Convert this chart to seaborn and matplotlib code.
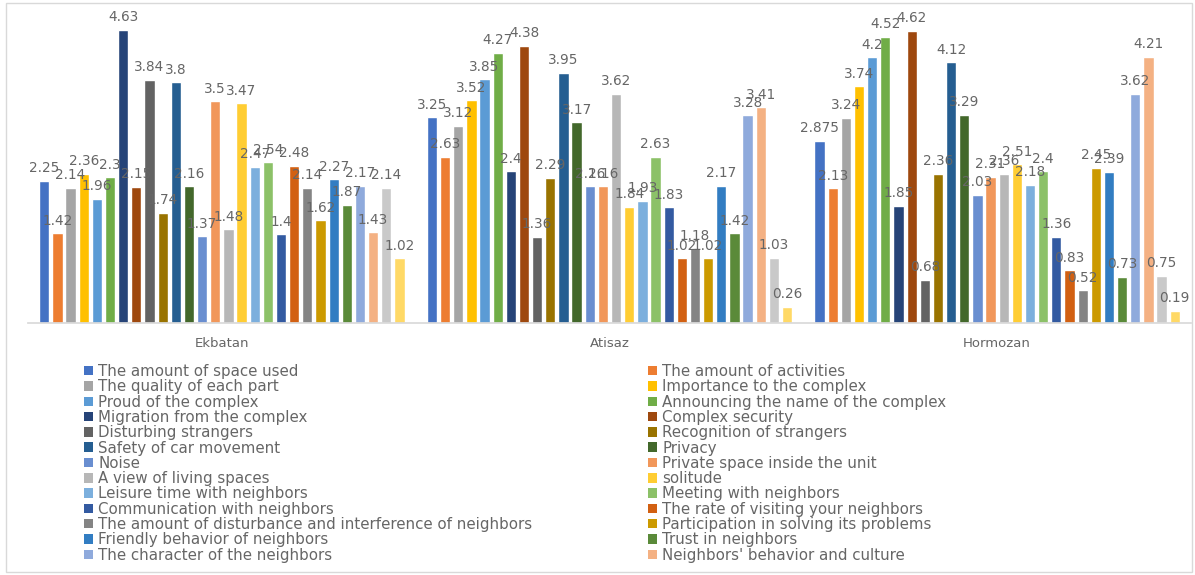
import matplotlib
matplotlib.use("Agg")
import matplotlib.pyplot as plt
import seaborn as sns
import pandas as pd
from matplotlib.patches import Patch, Rectangle

sites = ["Ekbatan", "Atisaz", "Hormozan"]

series_names = [
    "The amount of space used",
    "The amount of activities",
    "The quality of each part",
    "Importance to the complex",
    "Proud of the complex",
    "Announcing the name of the complex",
    "Migration from the complex",
    "Complex security",
    "Disturbing strangers",
    "Recognition of strangers",
    "Safety of car movement",
    "Privacy",
    "Noise",
    "Private space inside the unit",
    "A view of living spaces",
    "solitude",
    "Leisure time with neighbors",
    "Meeting with neighbors",
    "Communication with neighbors",
    "The rate of visiting your neighbors",
    "The amount of disturbance and interference of neighbors",
    "Participation in solving its problems",
    "Friendly behavior of neighbors",
    "Trust in neighbors",
    "The character of the neighbors",
    "Neighbors' behavior and culture",
    "Series 27",
    "Series 28",
]

ekbatan = [2.25, 1.42, 2.14, 2.36, 1.96, 2.3, 4.63, 2.15, 3.84, 1.74, 3.8, 2.16, 1.37, 3.5,
           1.48, 3.47, 2.47, 2.54, 1.4, 2.48, 2.14, 1.62, 2.27, 1.87, 2.17, 1.43, 2.14, 1.02]
atisaz = [3.25, 2.63, 3.12, 3.52, 3.85, 4.27, 2.4, 4.38, 1.36, 2.29, 3.95, 3.17, 2.16, 2.16,
          3.62, 1.84, 1.93, 2.63, 1.83, 1.02, 1.18, 1.02, 2.17, 1.42, 3.28, 3.41, 1.03, 0.26]
hormozan = [2.875, 2.13, 3.24, 3.74, 4.2, 4.52, 1.85, 4.62, 0.68, 2.36, 4.12, 3.29, 2.03, 2.31,
            2.36, 2.51, 2.18, 2.4, 1.36, 0.83, 0.52, 2.45, 2.39, 0.73, 3.62, 4.21, 0.75, 0.19]

colors = ["#4472C4", "#ED7D31", "#A5A5A5", "#FFC000", "#5B9BD5", "#70AD47",
          "#264478", "#9E480E", "#636363", "#997300", "#255E91", "#43682B",
          "#698ED0", "#F1975A", "#B7B7B7", "#FFCD33", "#7CAFDD", "#8CC168",
          "#335AA1", "#D26012", "#848484", "#CC9A00", "#327DC2", "#5A8A39",
          "#8FAADC", "#F4B183", "#C9C9C9", "#FFD966"]

rows = []
for site, vals in zip(sites, [ekbatan, atisaz, hormozan]):
    for name, v in zip(series_names, vals):
        rows.append({"site": site, "series": name, "value": v})
df = pd.DataFrame(rows)

sns.set_theme(style="white")
plt.rcParams["font.family"] = ["DejaVu Sans"]

fig = plt.figure(figsize=(11.95, 5.75), dpi=100)
ax = fig.add_axes([28 / 1195, 1 - 323 / 575, 1163 / 1195, 316.5 / 575])

sns.barplot(data=df, x="site", y="value", hue="series", order=sites,
            hue_order=series_names, palette=colors, width=0.95, gap=0.22,
            saturation=1, ax=ax, legend=False, errorbar=None)

for cont in ax.containers:
    for bar in cont:
        h = bar.get_height()
        ax.annotate(f"{h:g}", (bar.get_x() + bar.get_width() / 2, h),
                    xytext=(0, 4), textcoords="offset points",
                    ha="center", va="bottom", fontsize=9.8, color="#666666")

ax.set_ylim(0, 5)
ax.set_xlim(-0.5, 2.5)
ax.set_yticks([])
ax.set_xlabel("")
ax.set_ylabel("")
for s in ["top", "right", "left"]:
    ax.spines[s].set_visible(False)
ax.spines["bottom"].set_color("#D9D9D9")
ax.tick_params(axis="x", length=0, labelsize=9.5, colors="#666666", pad=10)

handles = [Patch(facecolor=c, edgecolor="none") for c in colors[:26]]
left_idx = list(range(0, 26, 2))
right_idx = list(range(1, 26, 2))
common = dict(frameon=False, fontsize=10.8, labelcolor="#666666", handlelength=0.6,
              handleheight=0.6, handletextpad=0.35, labelspacing=0.02, borderpad=0,
              borderaxespad=0, loc="upper left")
leg1 = fig.legend([handles[i] for i in left_idx], [series_names[i] for i in left_idx],
                  bbox_to_anchor=(84 / 1195, 1 - 364 / 575), **common)
leg2 = fig.legend([handles[i] for i in right_idx], [series_names[i] for i in right_idx],
                  bbox_to_anchor=(648 / 1195, 1 - 364 / 575), **common)

fig.patches.append(Rectangle((6 / 1195, 3 / 575), 1186 / 1195, 569 / 575,
                             transform=fig.transFigure, fill=False,
                             edgecolor="#D9D9D9", linewidth=1))

fig.savefig("out.png", dpi=100)
